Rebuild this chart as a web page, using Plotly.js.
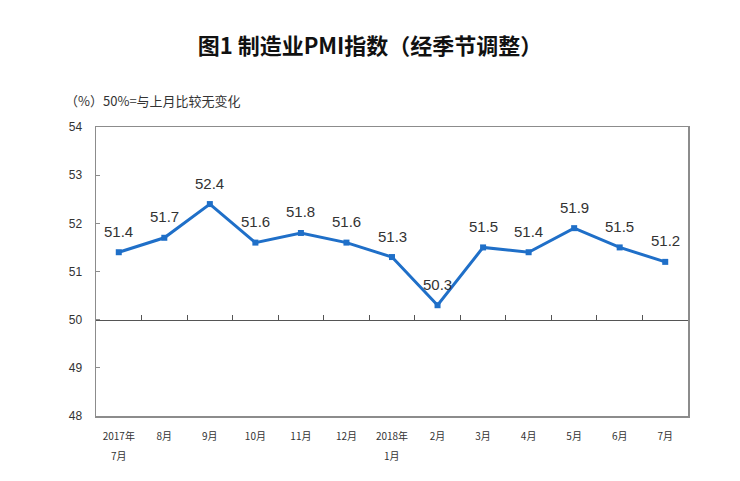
<!DOCTYPE html>
<html><head><meta charset="utf-8">
<script src="https://cdn.plot.ly/plotly-3.0.1.min.js"></script>
<style>html,body{margin:0;padding:0;background:#fff}</style>
</head><body>
<div id="chart" style="width:740px;height:481px"></div>
<script>
const months = ["2017年7月","8月","9月","10月","11月","12月","2018年1月","2月","3月","4月","5月","6月","7月"];
const tickLine1 = ["2017年","8月","9月","10月","11月","12月","2018年","2月","3月","4月","5月","6月","7月"];
const tickLine2 = ["7月","","","","","","1月","","","","","",""];
const pmi = [51.4,51.7,52.4,51.6,51.8,51.6,51.3,50.3,51.5,51.4,51.9,51.5,51.2];
const yTicks = [48,49,50,51,52,53,54];

const trace = {
  x: months, y: pmi, type: 'scatter', mode: 'lines+markers',
  line: {color: '#1f6fc8', width: 3},
  marker: {symbol: 'square', size: 6, color: '#1f6fc8'},
  hoverinfo: 'none', showlegend: false
};
const axisTrace = {x: months, y: pmi, xaxis: 'x2', yaxis: 'y', mode: 'none', showlegend: false, hoverinfo: 'none'};

const labels = months.map((m, i) => ({
  x: m, y: pmi[i], xref: 'x', yref: 'y', text: pmi[i].toFixed(1),
  showarrow: false, yshift: 21, font: {family: 'Liberation Sans, Arial', size: 15, color: '#333'}
}));
const secondLines = months.map((m, i) => ({
  x: m, y: 0, xref: 'x', yref: 'paper', text: tickLine2[i], yanchor: 'middle',
  showarrow: false, yshift: -39, font: {family: 'Noto Sans CJK SC', size: 10, color: '#333'}
})).filter(a => a.text !== '');

const layout = {
  width: 740, height: 481,
  margin: {l: 96, r: 52, t: 127, b: 65},
  paper_bgcolor: '#fff', plot_bgcolor: '#fff',
  title: {text: '<b>图1 制造业PMI指数（经季节调整）</b>', x: 0.5, xanchor: 'center', y: 0.903, yanchor: 'middle',
    font: {family: 'Noto Sans CJK SC', size: 22, color: '#111'}},
  xaxis: {
    type: 'category', range: [-0.5, 12.5], showgrid: false, zeroline: false, showline: true, mirror: true,
    linecolor: '#8c8c8c', linewidth: 1.5, ticks: '', tickvals: months, ticktext: tickLine1,
    tickfont: {family: 'Noto Sans CJK SC', size: 10, color: '#333'}, ticklabelstandoff: 10,
    fixedrange: true
  },
  xaxis2: {
    type: 'category', overlaying: 'x', anchor: 'free', position: 1/3, side: 'bottom', range: [-0.5, 12.5],
    showgrid: false, zeroline: false, showline: true, linecolor: '#555', linewidth: 1.5,
    ticks: 'inside', tickson: 'boundaries', ticklen: 5, tickcolor: '#555', showticklabels: false
  },
  yaxis: {
    range: [48, 54], tickvals: yTicks, showgrid: false, zeroline: false, showline: true, mirror: true,
    linecolor: '#8c8c8c', linewidth: 1.5, ticks: 'inside', ticklen: 4, tickcolor: '#8c8c8c',
    tickfont: {family: 'Liberation Sans, Arial', size: 12, color: '#333'}, ticklabelstandoff: 10
  },
  annotations: labels.concat(secondLines).concat([{
    xref: 'paper', yref: 'paper', x: -0.055, y: 1.09, xanchor: 'left', yanchor: 'middle',
    text: '（%）50%=与上月比较无变化', showarrow: false,
    font: {family: 'Noto Sans CJK SC', size: 13, color: '#333'}
  }])
};
Plotly.newPlot('chart', [trace, axisTrace], layout, {staticPlot: true, displayModeBar: false});
</script>
</body></html>
